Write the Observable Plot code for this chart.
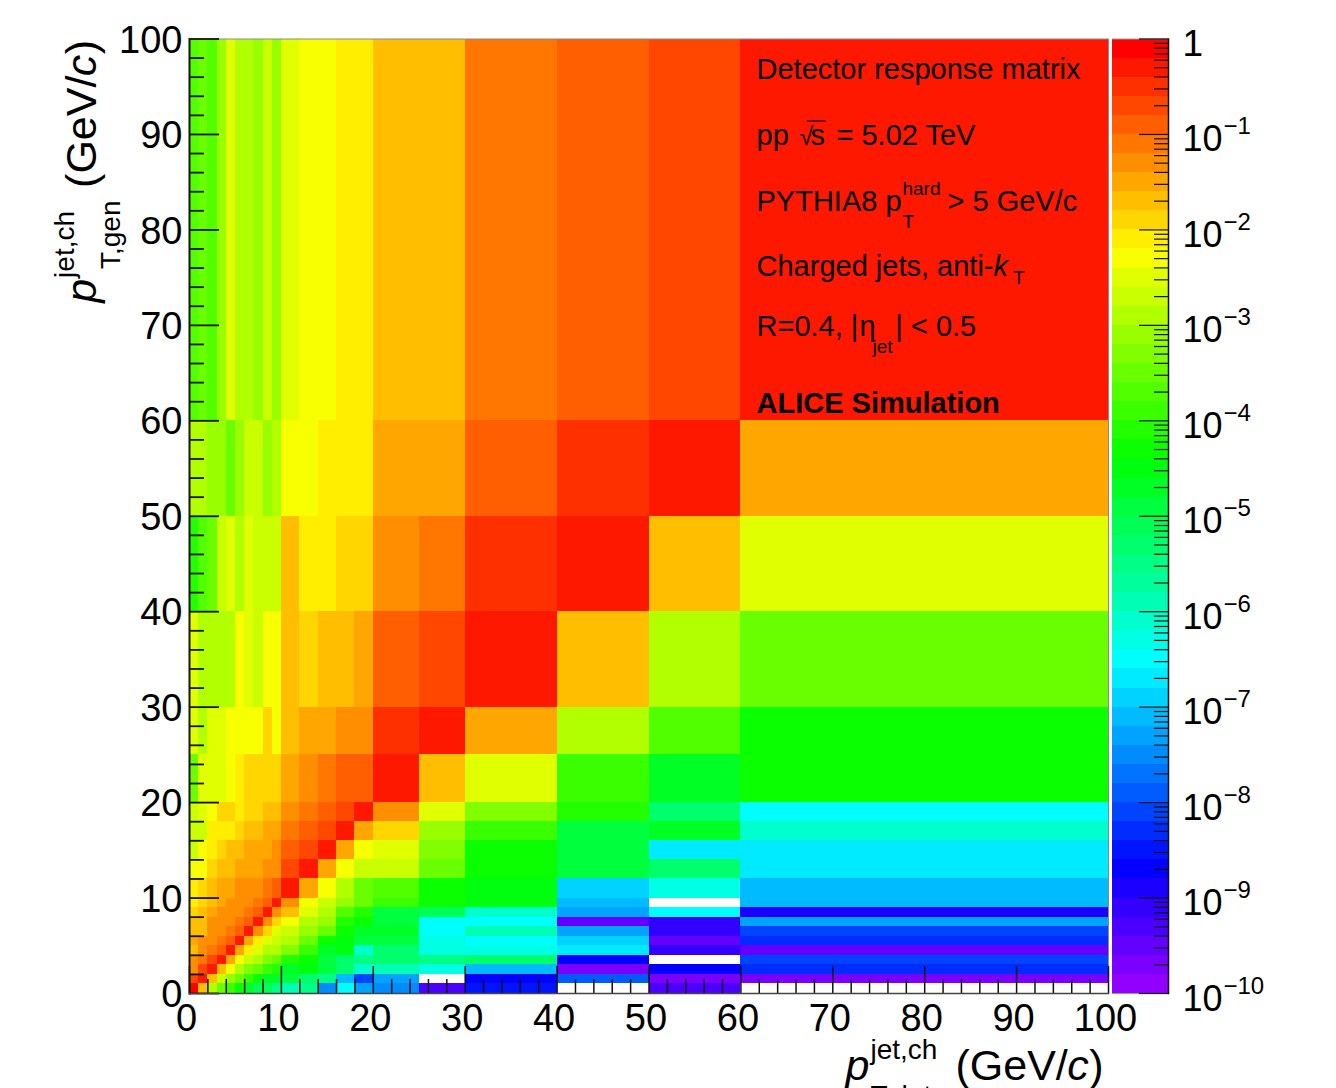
<!DOCTYPE html>
<html>
<head>
<meta charset="utf-8">
<script src="https://cdn.jsdelivr.net/npm/d3@7"></script>
<script src="https://cdn.jsdelivr.net/npm/@observablehq/plot@0.6"></script>
<style>
html,body{margin:0;padding:0;background:#fff;overflow:hidden}
#chart{position:relative;width:1336px;height:1088px;overflow:hidden}
#chart svg{position:absolute;left:0;top:0}
</style>
</head>
<body>
<div id="chart"></div>
<script>
// Bin edges (GeV/c), shared by both axes
const binEdges = [0,1,2,3,4,5,6,7,8,9,10,12,14,16,18,20,25,30,40,50,60,100];

const gen60to100 = [31,32,31,34,37,35,35,34,36,34,37,38,38,39,39,41,41,44,45,46,48];
const gen50to60  = [35,35,34,34,32,34,36,36,34,35,38,38,39,39,39,42,42,45,47,48,42];
const gen40to50  = [29,31,32,36,37,35,37,36,36,36,41,39,39,40,40,43,44,47,48,41,37];
const gen30to40  = [37,35,35,35,35,38,37,36,38,38,41,40,41,41,42,45,46,48,41,35,32];
const gen25to30  = [37,35,37,37,38,38,38,38,40,38,41,42,42,43,43,47,48,42,35,31,28];
const gen20to25  = [32,37,37,37,38,39,40,40,40,40,42,43,44,45,45,48,41,37,30,26,28];
const gen18to20  = [36,37,38,40,40,39,40,40,41,41,43,44,45,46,48,43,37,33,29,23,17];
const gen16to18  = [36,36,39,39,39,40,41,41,42,42,44,45,46,48,42,40,34,30,25,26,19];
const gen14to16  = [36,38,39,40,41,41,42,42,42,43,45,46,48,42,38,37,33,28,25,16,16];
const gen12to14  = [38,38,40,41,41,42,42,42,43,43,46,48,42,38,36,36,32,28,25,23,16];
const gen10to12  = [39,40,41,42,42,43,43,43,44,45,48,42,38,35,32,31,28,27,15,18,14];
const gen9to10   = [39,40,41,42,43,43,43,44,45,48,43,38,36,34,32,30,28,27,14,null,14];
const gen8to9    = [40,41,42,43,43,43,44,45,48,43,41,37,35,31,29,25,24,19,13,17,5];
const gen7to8    = [41,41,43,43,43,44,45,48,43,40,38,35,34,29,28,25,17,17,2,4,13];
const gen6to7    = [41,41,43,43,44,45,48,43,40,37,36,34,32,28,26,26,17,20,13,4,9];
const gen5to6    = [42,43,43,44,45,48,42,39,37,36,35,32,28,27,25,25,18,17,15,2,8];
const gen4to5    = [41,43,44,45,48,42,39,37,35,35,33,30,26,27,19,23,18,18,16,4,2];
const gen3to4    = [43,44,46,48,42,38,36,35,33,32,29,28,25,23,22,23,22,23,6,null,9];
const gen2to3    = [43,46,48,41,38,35,33,32,30,29,26,27,25,23,19,20,18,14,1,6,8];
const gen1to2    = [46,48,41,36,34,32,30,28,26,26,25,23,22,14,9,13,null,6,10,1,1];
const gen0to1    = [49,41,35,32,30,28,26,24,24,22,20,22,12,17,13,12,3,7,null,3,null];
const rowsBottomUp = [gen0to1,gen1to2,gen2to3,gen3to4,gen4to5,gen5to6,gen6to7,gen7to8,gen8to9,gen9to10,
  gen10to12,gen12to14,gen14to16,gen16to18,gen18to20,gen20to25,gen25to30,gen30to40,gen40to50,gen50to60,gen60to100];

// Axis ticks
const majorTicks = [0,10,20,30,40,50,60,70,80,90,100];
const minorTicks = [2,4,6,8,12,14,16,18,22,24,26,28,32,34,36,38,42,44,46,48,52,54,56,58,62,64,66,68,72,74,76,78,82,84,86,88,92,94,96,98];
const barPowers = [0,-1,-2,-3,-4,-5,-6,-7,-8,-9,-10];
const barMantissas = [2,3,4,5,6,7,8,9];

// ROOT "pretty" rainbow palette: 50 levels
const palette = d3.range(50).map(i => d3.hsl(280 - (i + 1) * 5.6, 1, 0.5).formatHex());
const bandStep = 0.2;
const bandLog = b => -10 + (b + 0.5) * bandStep;

const cells = [];
rowsBottomUp.forEach((row, r) => row.forEach((band, c) => {
  if (band !== null) cells.push({x1: binEdges[c], x2: binEdges[c + 1], y1: binEdges[r], y2: binEdges[r + 1], logResp: bandLog(band)});
}));

const font = '"Liberation Sans", Arial, Helvetica, sans-serif';

// Text fragments of the panel legend and the axis titles (GeV/c coordinates)
const fragments = [
  {text:"Detector response matrix", x:61.7, y:95.81, size:29},
  {text:"pp", x:61.7, y:88.9, size:29},
  {text:"√", x:66.37, y:88.9, size:25},
  {text:"s", x:67.57, y:88.9, size:29},
  {text:"= 5.02 TeV", x:70.4, y:88.9, size:29},
  {text:"PYTHIA8 p", x:61.7, y:81.99, size:29},
  {text:"hard", x:77.58, y:83.66, size:19},
  {text:"T", x:77.58, y:80.21, size:19},
  {text:"> 5 GeV/c", x:82.48, y:81.99, size:29},
  {text:"Charged jets, anti-", x:61.7, y:75.18, size:29},
  {text:"k", x:87.49, y:75.18, size:29, style:"italic"},
  {text:"T", x:89.6, y:74.35, size:19},
  {text:"R=0.4, |", x:61.7, y:68.9, size:29},
  {text:"η", x:72.9, y:68.9, size:29},
  {text:"jet", x:74.32, y:67.12, size:19},
  {text:"| < 0.5", x:76.8, y:68.9, size:29},
  {text:"ALICE Simulation", x:61.7, y:60.84, size:29, weight:"bold"},
  // x title
  {text:"p", x:71.38, y:-9.11, size:43, style:"italic"},
  {text:"jet,ch", x:74.1, y:-6.81, size:28},
  {text:"T,det", x:74.1, y:-11.7, size:28},
  {text:"(GeV/", x:83.35, y:-9.11, size:43},
  {text:"c", x:95.5, y:-9.11, size:43, style:"italic"},
  {text:")", x:97.9, y:-9.11, size:43},
  // y title
  {text:"p", x:-10.12, y:72.36, size:43, style:"italic", rotate:-90},
  {text:"jet,ch", x:-12.62, y:74.97, size:28, rotate:-90},
  {text:"T,gen", x:-7.51, y:75.9, size:28, rotate:-90},
  {text:"(GeV/", x:-10.12, y:84.4, size:43, rotate:-90},
  {text:"c", x:-10.12, y:96.1, size:43, style:"italic", rotate:-90},
  {text:")", x:-10.12, y:98.4, size:43, rotate:-90}
];
// The overbar of the square root in the energy label
const sqrtBar = [{x1:67.25, x2:69.31, y:91.4}];

const W = 1336, H = 1088, marginTop = 38.5, marginBottom = 95;

const main = Plot.plot({
  width: W, height: H,
  marginLeft: 189, marginRight: 228, marginTop, marginBottom,
  style: {fontFamily: font, background: "transparent", color: "#000"},
  x: {domain: [0, 100]},
  y: {domain: [0, 100]},
  color: {type: "threshold", domain: d3.range(49).map(i => -9.8 + i * bandStep), range: palette},
  marks: [
    Plot.rect(cells, {x1:"x1", x2:"x2", y1:"y1", y2:"y2", fill:"logResp", shapeRendering:"crispEdges"}),
    Plot.frame({stroke:"#8a8a8a", strokeWidth:1}),
    Plot.tickY(majorTicks, {y:d=>d, stroke:"#141400", strokeWidth:1.8, insetRight: 919 - 30}),
    Plot.tickY(minorTicks, {y:d=>d, stroke:"#141400", strokeWidth:1.8, insetRight: 919 - 15}),
    Plot.tickX(majorTicks, {x:d=>d, stroke:"#111", strokeWidth:1.5, insetTop: 954.5 - 27}),
    Plot.tickX(minorTicks, {x:d=>d, stroke:"#111", strokeWidth:1.5, insetTop: 954.5 - 14}),
    Plot.frame({anchor:"left", stroke:"#141400", strokeWidth:2}),
    Plot.frame({anchor:"bottom", stroke:"#444", strokeWidth:1.5}),
    Plot.axisX({ticks: majorTicks, tickSize: 0, tickPadding: 11, fontSize: 38, label: null, tickFormat: "d", fill:"#000", dx:-3}),
    Plot.axisY({ticks: majorTicks, tickSize: 0, tickPadding: 7, fontSize: 38, label: null, tickFormat: "d", fill:"#000", dy:1.5}),
    ...fragments.map(f => Plot.text([f], {
      x:"x", y:"y", text:"text", fontSize:f.size, fontStyle:f.style, fontWeight:f.weight,
      rotate:f.rotate || 0, textAnchor:"start", lineAnchor:"bottom", fill:"#000", fontFamily:font
    })),
    Plot.ruleY(sqrtBar, {x1:"x1", x2:"x2", y:"y", stroke:"#000", strokeWidth:1.2})
  ]
});

// Colour bar
const bands = palette.map((colour, i) => ({lo: Math.pow(10, -10 + i * bandStep), hi: Math.pow(10, -10 + (i + 1) * bandStep), colour}));
const barMajor = barPowers.map(p => Math.pow(10, p));
const barMinor = barPowers.slice(0, -1).flatMap(p => barMantissas.map(m => m * Math.pow(10, p - 1)));
const barLabels = barPowers.filter(p => p !== 0).map(p => ({v: Math.pow(10, p), exp: "\u2212" + Math.abs(p)}));

const bar = Plot.plot({
  width: W, height: H,
  marginLeft: 1112, marginRight: 168, marginTop, marginBottom,
  style: {fontFamily: font, background: "transparent", color: "#000"},
  y: {type: "log", domain: [1e-10, 1], axis: null},
  marks: [
    Plot.rect(bands, {y1:"lo", y2:"hi", fill:"colour", shapeRendering:"crispEdges"}),
    Plot.frame({anchor:"top", stroke:"#999", strokeWidth:1}),
    Plot.frame({anchor:"bottom", stroke:"#999", strokeWidth:1}),
    Plot.tickY(barMajor, {y:d=>d, stroke:"#111", strokeWidth:1.2, insetLeft: 56 - 29}),
    Plot.tickY(barMinor, {y:d=>d, stroke:"#111", strokeWidth:1.2, insetLeft: 56 - 14}),
    Plot.frame({anchor:"right", stroke:"#111", strokeWidth:1.5}),
    Plot.text([1], {y:d=>d, text:()=>"1", frameAnchor:"right", textAnchor:"start", lineAnchor:"bottom", dx:14, dy:17, fontSize:37, fill:"#000"}),
    Plot.text(barLabels, {y:"v", text:()=>"10", frameAnchor:"right", textAnchor:"start", lineAnchor:"bottom", dx:14, dy:17, fontSize:36, fill:"#000"}),
    Plot.text(barLabels, {y:"v", text:"exp", frameAnchor:"right", textAnchor:"start", lineAnchor:"bottom", dx:55, dy:0, fontSize:24, fill:"#000"})
  ]
});

const host = document.getElementById("chart");
host.appendChild(main);
host.appendChild(bar);
</script>
</body>
</html>
